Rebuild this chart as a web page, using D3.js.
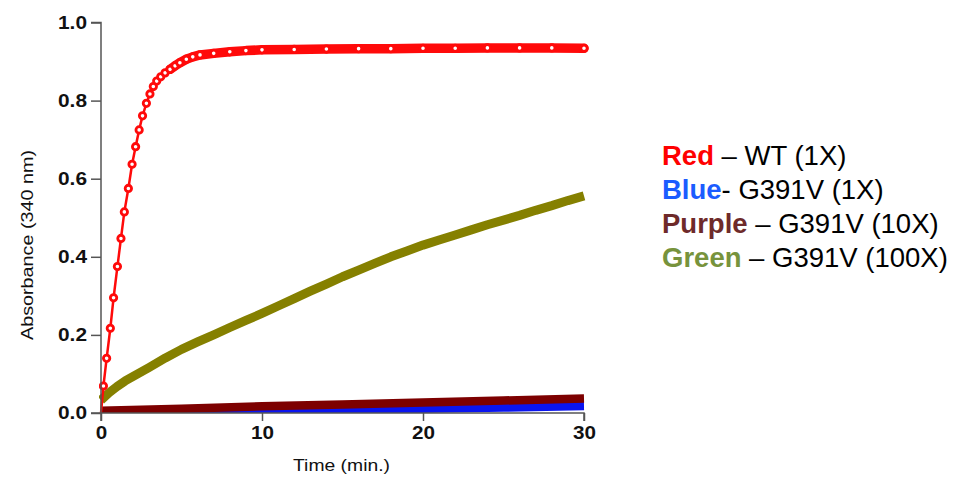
<!DOCTYPE html>
<html>
<head>
<meta charset="utf-8">
<script src="https://cdn.jsdelivr.net/npm/d3@7"></script>
<style>
  html, body { margin: 0; padding: 0; background: #fff; }
  svg { display: block; font-family: Arial, "Liberation Sans", sans-serif; }
</style>
</head>
<body>
<svg id="chart" width="959" height="478"></svg>
<script>
// ---- data ----
const redTime = [0, 0.15, 0.35, 0.58, 0.78, 1.02, 1.24, 1.45, 1.7, 1.93, 2.15, 2.37, 2.58, 2.82, 3.04, 3.25, 3.46, 3.71, 3.98, 4.29, 4.6, 4.9, 5.3, 5.7, 6.15, 7, 8, 9, 10, 12, 14, 16, 18, 20, 22, 24, 26, 28, 30];
const redAbs  = [0.0, 0.069, 0.14, 0.217, 0.295, 0.375, 0.447, 0.515, 0.575, 0.637, 0.682, 0.725, 0.761, 0.793, 0.817, 0.836, 0.85, 0.861, 0.871, 0.88, 0.889, 0.897, 0.906, 0.912, 0.917, 0.921, 0.925, 0.928, 0.93, 0.931, 0.932, 0.933, 0.933, 0.934, 0.934, 0.935, 0.935, 0.935, 0.934];

const greenTime = [0, 0.5, 1, 1.5, 2, 3, 4, 5, 6, 7, 8, 9, 10, 11, 12, 13, 14, 15, 16, 17, 18, 19, 20, 21, 22, 23, 24, 25, 26, 27, 28, 29, 30];
const greenAbs  = [0.033, 0.052, 0.068, 0.082, 0.094, 0.117, 0.141, 0.163, 0.182, 0.2, 0.219, 0.237, 0.255, 0.274, 0.293, 0.312, 0.33, 0.349, 0.366, 0.383, 0.4, 0.415, 0.43, 0.443, 0.456, 0.469, 0.482, 0.494, 0.506, 0.519, 0.531, 0.544, 0.556];

const purpleTime = [0, 5, 10, 15, 20, 25, 30];
const purpleAbs  = [0.006, 0.011, 0.017, 0.022, 0.027, 0.032, 0.037];

const blueTime = [0, 5, 10, 15, 20, 25, 30];
const blueAbs  = [0.0, 0.002, 0.005, 0.008, 0.011, 0.014, 0.018];

const xTicks = [0, 10, 20, 30];
const yTicks = [0.0, 0.2, 0.4, 0.6, 0.8, 1.0];

const legendNames = ["Red", "Blue", "Purple", "Green"];
const legendLabels = [" \u2013 WT (1X)", "- G391V (1X)", " \u2013 G391V (10X)", " \u2013 G391V (100X)"];
const legendColors = ["#ff0000", "#1b5cff", "#6e2a2a", "#77933c"];

// ---- layout ----
const svg = d3.select("#chart");
const x = d3.scaleLinear().domain([0, 30]).range([101, 584]);
const y = d3.scaleLinear().domain([0, 1]).range([413, 22.5]);

const zip = (t, v) => t.map((d, i) => ({t: d, v: v[i]}));
const line = d3.line().x(d => x(d.t)).y(d => y(d.v));

svg.append("defs").append("clipPath").attr("id", "plotclip")
  .append("rect").attr("x", 99).attr("y", 10).attr("width", 500).attr("height", 403);

const plot = svg.append("g").attr("clip-path", "url(#plotclip)");

// bands (dense data rendered as thick strokes)
plot.append("path").datum(zip(blueTime, blueAbs))
  .attr("d", line).attr("fill", "none").attr("stroke", "#0a14f0").attr("stroke-width", 8.5);
plot.append("path").datum(zip(purpleTime, purpleAbs))
  .attr("d", line).attr("fill", "none").attr("stroke", "#7d0000").attr("stroke-width", 8.5);
plot.append("path").datum(zip(greenTime, greenAbs))
  .attr("d", line).attr("fill", "none").attr("stroke", "#858000").attr("stroke-width", 9)
  .attr("stroke-linejoin", "round");

// red series
const redData = zip(redTime, redAbs);
plot.append("path").datum(redData.filter(d => d.t >= 4.2))
  .attr("d", line).attr("fill", "none").attr("stroke", "#ff0a0a").attr("stroke-width", 9.5)
  .attr("stroke-linejoin", "round").attr("stroke-linecap", "round");
plot.append("path").datum(redData)
  .attr("d", line).attr("fill", "none").attr("stroke", "#ff0a0a").attr("stroke-width", 2.5);
plot.selectAll("circle.red").data(redData.filter(d => d.t > 0)).enter().append("circle")
  .attr("class", "red")
  .attr("cx", d => x(d.t)).attr("cy", d => y(d.v)).attr("r", 3.2)
  .attr("fill", "#fff").attr("stroke", "#ff0a0a").attr("stroke-width", 2.8);

// ---- axes ----
const xAxis = svg.append("g").attr("transform", "translate(0,413)")
  .call(d3.axisBottom(x).tickValues(xTicks).tickSize(8).tickPadding(5).tickFormat(d3.format("d")));
const yAxis = svg.append("g").attr("transform", "translate(101,0)")
  .call(d3.axisLeft(y).tickValues(yTicks).tickSize(10).tickPadding(4).tickFormat(d3.format(".1f")));

[xAxis, yAxis].forEach(g => {
  g.select(".domain").attr("stroke", "#555").attr("stroke-width", 1.5);
  g.selectAll(".tick line").attr("stroke", "#555").attr("stroke-width", 1.5);
  g.selectAll(".tick text").attr("fill", "#111").attr("font-size", 18).attr("font-weight", "bold")
    .attr("font-family", "Arial, 'Liberation Sans', sans-serif")
    .attr("lengthAdjust", "spacingAndGlyphs");
});
xAxis.selectAll(".tick text").attr("textLength", function() { return this.textContent.length * 11.5; });
yAxis.selectAll(".tick text").attr("textLength", 29);
xAxis.select(".domain").attr("d", "M101,8V0H584V8");
yAxis.select(".domain").attr("d", "M-10,22.5H0V413H-10");

svg.append("text").attr("x", 341.5).attr("y", 471).attr("text-anchor", "middle")
  .attr("font-size", 16.5).attr("fill", "#111")
  .attr("textLength", 97).attr("lengthAdjust", "spacingAndGlyphs")
  .text("Time (min.)");
svg.append("text").attr("transform", "translate(33,245) rotate(-90)")
  .attr("text-anchor", "middle").attr("font-size", 16.5).attr("fill", "#111")
  .attr("textLength", 190).attr("lengthAdjust", "spacingAndGlyphs")
  .text("Absorbance (340 nm)");

// ---- legend ----
const leg = svg.append("g");
legendNames.forEach((n, i) => {
  const t = leg.append("text").attr("x", 662).attr("y", 165 + i * 34).attr("font-size", 27.5);
  t.append("tspan").attr("font-weight", "bold").attr("fill", legendColors[i]).text(n);
  t.append("tspan").attr("fill", "#000").text(legendLabels[i]);
});
</script>
</body>
</html>
